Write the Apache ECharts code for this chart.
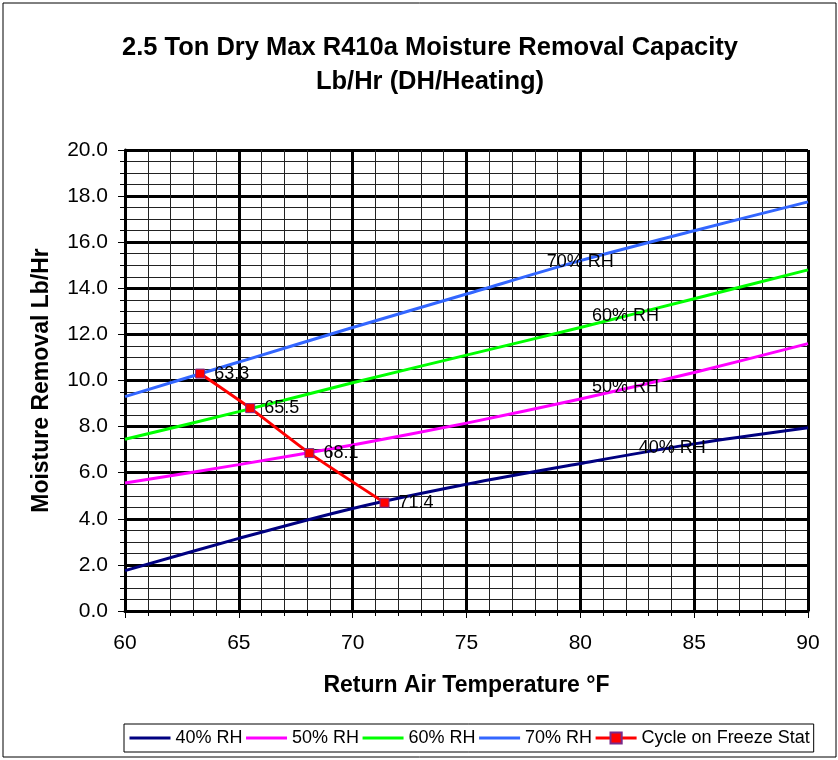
<!DOCTYPE html>
<html><head><meta charset="utf-8">
<script src="https://cdn.jsdelivr.net/npm/echarts@6/dist/echarts.min.js"></script>
<style>html,body{margin:0;padding:0;background:#fff}#c{width:838px;height:760px}</style>
</head><body><div id="c"></div>
<script>
const temps = [60, 65, 70, 75, 80, 85, 90];
const rh40 = [1.75, 3.15, 4.45, 5.5, 6.4, 7.25, 7.95];
const rh50 = [5.55, 6.35, 7.2, 8.15, 9.2, 10.35, 11.6];
const rh60 = [7.45, 8.65, 9.9, 11.1, 12.3, 13.55, 14.8];
const rh70 = [9.3, 10.8, 12.3, 13.75, 15.2, 16.5, 17.75];
const cycleTemps = [63.3, 65.5, 68.1, 71.4];
const cycleVals = [10.3, 8.8, 6.85, 4.7];
const seriesNames = ['40% RH', '50% RH', '60% RH', '70% RH', 'Cycle on Freeze Stat'];
const xTicks = [60, 65, 70, 75, 80, 85, 90];
const yTicks = [0, 2, 4, 6, 8, 10, 12, 14, 16, 18, 20];

const FONT = '"Liberation Sans", Arial, sans-serif';
function pairs(xs, ys) { return xs.map((x, i) => [x, ys[i]]); }
function curveLabel(text, coord) {
  return {
    symbol: 'circle', symbolSize: 1, silent: true,
    itemStyle: { color: 'rgba(0,0,0,0)' },
    data: [{ coord: coord }],
    label: { show: true, formatter: text, position: 'inside', color: '#000', fontSize: 18, fontFamily: FONT }
  };
}
const chart = echarts.init(document.getElementById('c'), null, { renderer: 'canvas' });
const mkLine = (name, ys, color, lbl, coord) => ({
  name: name, type: 'line', data: pairs(temps, ys), smooth: 0.3, showSymbol: false, symbol: 'none',
  lineStyle: { color: color, width: 3 }, itemStyle: { color: color },
  markPoint: curveLabel(lbl, coord), z: 3
});
chart.setOption({
  backgroundColor: '#fff',
  animation: false,
  title: {
    text: '2.5 Ton Dry Max R410a Moisture Removal Capacity\nLb/Hr (DH/Heating)',
    left: 425, textAlign: 'center', top: 26,
    textStyle: { fontFamily: FONT, fontWeight: 'bold', fontSize: 25.5, lineHeight: 34, color: '#000' }
  },
  graphic: [{ type: 'rect', shape: { x: 3, y: 3, width: 833, height: 754 }, style: { fill: null, stroke: '#000', lineWidth: 1 }, silent: true }],
  legend: {
    left: 124, top: 724,
    data: seriesNames.map((n, i) => i < 4 ? { name: n, itemStyle: { opacity: 0 } } : { name: n }),
    itemWidth: 41, itemHeight: 14, itemGap: 2,
    padding: [5, 4, 5, 4],
    lineStyle: { width: 3 },
    borderColor: '#000', borderWidth: 1,
    textStyle: { fontFamily: FONT, fontSize: 18, color: '#000' }
  },
  grid: { left: 125, right: 30, top: 150, bottom: 149, containLabel: false },
  xAxis: {
    type: 'value', min: xTicks[0], max: xTicks[xTicks.length - 1], interval: 5,
    name: 'Return Air Temperature °F', nameLocation: 'middle', nameGap: 63,
    nameTextStyle: { fontFamily: FONT, fontWeight: 'bold', fontSize: 23, color: '#000' },
    axisLine: { show: true, onZero: false, lineStyle: { color: '#000', width: 3 } },
    axisTick: { show: true, length: 7, lineStyle: { color: '#000', width: 1 } },
    minorTick: { show: true, splitNumber: 5, length: 5, lineStyle: { color: '#000', width: 1 } },
    axisLabel: { fontFamily: FONT, fontSize: 21, color: '#000', margin: 22 },
    splitLine: { show: true, lineStyle: { color: '#000', width: 3 } },
    minorSplitLine: { show: true, lineStyle: { color: '#222', width: 1 } }
  },
  yAxis: {
    type: 'value', min: yTicks[0], max: yTicks[yTicks.length - 1], interval: 2,
    name: 'Moisture Removal Lb/Hr', nameLocation: 'middle', nameGap: 72,
    nameTextStyle: { fontFamily: FONT, fontWeight: 'bold', fontSize: 23, color: '#000' },
    axisLine: { show: true, onZero: false, lineStyle: { color: '#000', width: 3 } },
    axisTick: { show: true, length: 7, lineStyle: { color: '#000', width: 1 } },
    minorTick: { show: true, splitNumber: 4, length: 5, lineStyle: { color: '#000', width: 1 } },
    axisLabel: { fontFamily: FONT, fontSize: 21, color: '#000', margin: 17, formatter: v => v.toFixed(1) },
    splitLine: { show: true, lineStyle: { color: '#000', width: 3 } },
    minorSplitLine: { show: true, lineStyle: { color: '#222', width: 1 } }
  },
  series: [
    mkLine(seriesNames[0], rh40, '#000080', '40% RH', [84.04, 7.06]),
    mkLine(seriesNames[1], rh50, '#ff00ff', '50% RH', [81.98, 9.73]),
    mkLine(seriesNames[2], rh60, '#00ff00', '60% RH', [81.98, 12.8]),
    mkLine(seriesNames[3], rh70, '#3366ff', '70% RH', [80.0, 15.14]),
    {
      name: seriesNames[4], type: 'line', data: pairs(cycleTemps, cycleVals), smooth: 0.2,
      symbol: 'rect', symbolSize: 9, showSymbol: true,
      lineStyle: { color: '#ff0000', width: 3 },
      itemStyle: { color: '#ff0000', borderColor: '#7a2a8a', borderWidth: 1 },
      label: { show: true, position: 'right', distance: 9, fontFamily: FONT, fontSize: 18, color: '#000',
        formatter: p => p.value[0].toFixed(1) },
      z: 4
    }
  ]
});
</script></body></html>
